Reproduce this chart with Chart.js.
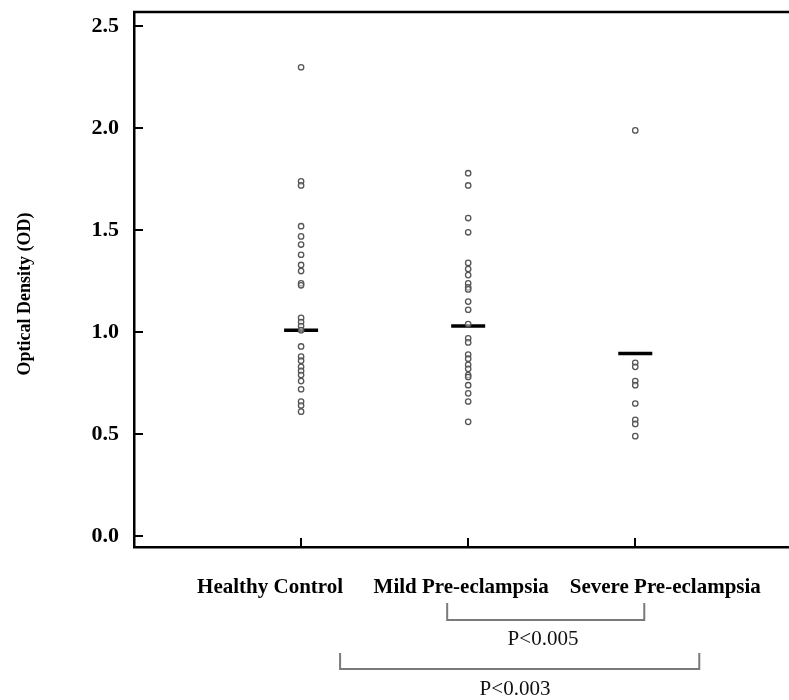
<!DOCTYPE html>
<html>
<head>
<meta charset="utf-8">
<script src="https://cdn.jsdelivr.net/npm/chart.js@4.4.1/dist/chart.umd.min.js"></script>
<style>
  html, body { margin: 0; padding: 0; background: #fff; }
  canvas { display: block; }
</style>
</head>
<body>
<canvas id="myChart" width="789" height="700"></canvas>
<script>
const categories = ['Healthy Control', 'Mild Pre-eclampsia', 'Severe Pre-eclampsia'];
const healthyValues = [2.30, 1.74, 1.72, 1.52, 1.47, 1.43, 1.38, 1.33, 1.30, 1.24, 1.23,
  1.07, 1.05, 1.03, 1.01, 0.93, 0.88, 0.86, 0.83, 0.81, 0.79, 0.76, 0.72, 0.66, 0.64, 0.61];
const mildValues = [1.78, 1.72, 1.56, 1.49, 1.34, 1.31, 1.28, 1.24, 1.22, 1.21, 1.15, 1.11,
  1.04, 0.97, 0.95, 0.89, 0.87, 0.84, 0.82, 0.79, 0.78, 0.74, 0.70, 0.66, 0.56];
const severeValues = [1.99, 0.85, 0.83, 0.76, 0.74, 0.65, 0.57, 0.55, 0.49];
const groupMeans = [1.01, 1.03, 0.895];
const yTicks = [0, 0.5, 1.0, 1.5, 2.0, 2.5];
const comparisons = [
  { from: 2, to: 3, label: 'P<0.005' },
  { from: 1, to: 3, label: 'P<0.003' }
];

const serif = '"Liberation Serif", "Times New Roman", serif';

const toPoints = (values, pos) => values.map(v => ({ x: pos, y: v }));

const noPadding = scale => {
  scale.paddingTop = 0;
  scale.paddingBottom = 0;
  scale.paddingLeft = 0;
  scale.paddingRight = 0;
};

const extras = {
  id: 'extras',
  afterDraw(chart) {
    const ctx = chart.ctx;
    const area = chart.chartArea;
    const xs = chart.scales.x;
    const ys = chart.scales.y;
    ctx.save();
    ctx.strokeStyle = '#000';

    // top frame line
    ctx.lineWidth = 2.5;
    ctx.beginPath();
    ctx.moveTo(area.left - 1, area.top);
    ctx.lineTo(area.right, area.top);
    ctx.stroke();

    // inward tick marks
    ctx.lineWidth = 2;
    yTicks.forEach(v => {
      const y = Math.round(ys.getPixelForValue(v));
      ctx.beginPath();
      ctx.moveTo(area.left, y);
      ctx.lineTo(area.left + 9, y);
      ctx.stroke();
    });
    categories.forEach((c, i) => {
      const x = Math.round(xs.getPixelForValue(i + 1));
      ctx.beginPath();
      ctx.moveTo(x, area.bottom);
      ctx.lineTo(x, area.bottom - 9);
      ctx.stroke();
    });

    // category labels
    const labelShift = [-31, -7, 30];
    ctx.fillStyle = '#000';
    ctx.font = 'bold 21px ' + serif;
    ctx.textAlign = 'center';
    ctx.textBaseline = 'middle';
    categories.forEach((c, i) => {
      ctx.fillText(c, xs.getPixelForValue(i + 1) + labelShift[i], 588);
    });

    // comparison brackets
    const brackets = [
      { l: -21, r: 9, top: 603, bar: 620, textX: 543, textY: 639 },
      { l: 39, r: 64, top: 653, bar: 669, textX: 515, textY: 689 }
    ];
    ctx.font = '21px ' + serif;
    comparisons.forEach((cmp, i) => {
      const b = brackets[i];
      const x1 = xs.getPixelForValue(cmp.from) + b.l;
      const x2 = xs.getPixelForValue(cmp.to) + b.r;
      ctx.strokeStyle = '#7a7a7a';
      ctx.lineWidth = 2;
      ctx.beginPath();
      ctx.moveTo(x1, b.top);
      ctx.lineTo(x1, b.bar);
      ctx.lineTo(x2, b.bar);
      ctx.lineTo(x2, b.top);
      ctx.stroke();
      ctx.fillStyle = '#111';
      ctx.fillText(cmp.label, b.textX, b.textY);
    });

    // y axis title
    ctx.translate(25, 294);
    ctx.rotate(-Math.PI / 2);
    ctx.font = 'bold 18px ' + serif;
    ctx.fillStyle = '#000';
    ctx.fillText('Optical Density (OD)', 0, 0);
    ctx.restore();
  }
};

const pointStyle = {
  type: 'scatter',
  pointRadius: 2.7,
  pointBorderWidth: 1.3,
  borderColor: '#555',
  backgroundColor: 'rgba(255,255,255,0.5)'
};

new Chart(document.getElementById('myChart').getContext('2d'), {
  type: 'scatter',
  data: {
    datasets: [
      Object.assign({ data: toPoints(healthyValues, 1) }, pointStyle),
      Object.assign({ data: toPoints(mildValues, 2) }, pointStyle),
      Object.assign({ data: toPoints(severeValues, 3) }, pointStyle),
      {
        data: groupMeans.map((m, i) => ({ x: i + 1, y: m })),
        pointStyle: 'line',
        pointRadius: 17,
        pointBorderWidth: 3.5,
        borderColor: '#000',
        backgroundColor: '#000'
      }
    ]
  },
  options: {
    responsive: false,
    animation: false,
    layout: { autoPadding: false, padding: { top: 12, right: 0, left: 0, bottom: 0 } },
    plugins: {
      legend: { display: false },
      tooltip: { enabled: false }
    },
    scales: {
      x: {
        type: 'linear',
        min: 0,
        max: 3.92,
        grid: { display: false, drawTicks: false },
        ticks: { display: false },
        border: { display: true, color: '#000', width: 2.5 },
        afterFit: scale => { scale.height = 153; noPadding(scale); }
      },
      y: {
        min: -0.054,
        max: 2.571,
        grid: { display: false, drawTicks: false },
        border: { display: true, color: '#000', width: 2.5 },
        afterBuildTicks: scale => { scale.ticks = yTicks.map(v => ({ value: v })); },
        afterFit: scale => { scale.width = 134; noPadding(scale); },
        ticks: {
          color: '#000',
          padding: 15,
          font: { family: serif, size: 22, weight: 'bold' },
          callback: v => Number(v).toFixed(1)
        }
      }
    }
  },
  plugins: [extras]
});
</script>
</body>
</html>
